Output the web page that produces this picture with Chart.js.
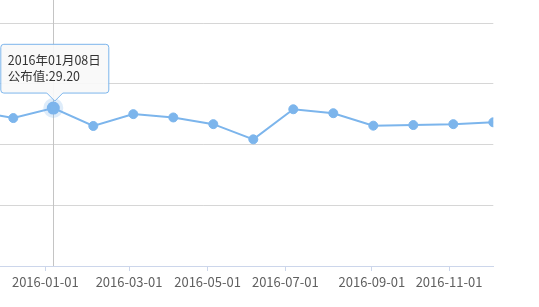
<!DOCTYPE html>
<html>
<head>
<meta charset="utf-8">
<script src="https://cdn.jsdelivr.net/npm/chart.js@4/dist/chart.umd.min.js"></script>
<style>
  html, body { margin: 0; padding: 0; width: 539px; height: 307px; overflow: hidden; background: #fff; }
  #wrap { position: absolute; left: -100px; top: 0; width: 639px; height: 307px; }
</style>
</head>
<body>
<div id="wrap"><canvas id="c"></canvas></div>
<script>
// Release dates (ordinal x-axis: one slot per release)
const releaseDates = ['2015-11-06','2015-12-04','2016-01-08','2016-02-05','2016-03-04','2016-04-01',
                      '2016-05-06','2016-06-03','2016-07-08','2016-08-05','2016-09-02','2016-10-07',
                      '2016-11-04','2016-12-02'];
// 公布值
const publishedValues = [29.10, 28.87, 29.20, 28.61, 29.00, 28.89, 28.67, 28.17, 29.16, 29.03, 28.62, 28.64, 28.67, 28.73];
// Date tick labels on the x axis
const xTickLabels = ['2015-11-01','2016-01-01','2016-03-01','2016-05-01','2016-07-01','2016-09-01','2016-11-01'];
// Y axis range
const yMin = 24, yMax = 32, yStep = 2;
const activeIndex = 2;

const FONT = "'Noto Sans CJK SC', 'Noto Sans', sans-serif";
const BLUE = '#7cb5ec';

function dayNum(s) { const p = s.split('-').map(Number); return Date.UTC(p[0], p[1]-1, p[2]) / 86400000; }
const relDays = releaseDates.map(dayNum);
// map a calendar date to an ordinal position (interpolated between releases)
function ordinalPos(s) {
  const d = dayNum(s);
  if (d < relDays[0]) return (d - relDays[0]) / (relDays[1] - relDays[0]);
  for (let i = 0; i < relDays.length - 1; i++) {
    if (d >= relDays[i] && d < relDays[i+1]) return i + (d - relDays[i]) / (relDays[i+1] - relDays[i]);
  }
  const n = relDays.length - 1;
  return n + (d - relDays[n]) / (relDays[n] - relDays[n-1]);
}
const tickPositions = xTickLabels.map(ordinalPos);
const points = publishedValues.map((v, i) => ({ x: i, y: v }));

function fmtCN(s) { const p = s.split('-'); return p[0] + '年' + p[1] + '月' + p[2] + '日'; }

// keep the tooltip box slightly inside the visible frame, like the original
Chart.Tooltip.positioners.nudged = function (items) {
  if (!items.length) return false;
  const p = items[0].element;
  return { x: p.x + 1.5, y: p.y };
};

const crosshair = {
  id: 'crosshair',
  beforeDatasetsDraw(chart) {
    const act = chart.getActiveElements();
    if (!act.length) return;
    const x = Math.round(act[0].element.x) + 0.5;
    const ctx = chart.ctx;
    ctx.save();
    ctx.strokeStyle = '#c4c4c4';
    ctx.lineWidth = 1;
    ctx.beginPath();
    ctx.moveTo(x, 0);
    ctx.lineTo(x, chart.chartArea.bottom);
    ctx.stroke();
    ctx.restore();
  }
};

const chart = new Chart(document.getElementById('c'), {
  type: 'line',
  data: {
    datasets: [{
      data: points,
      borderColor: BLUE,
      backgroundColor: BLUE,
      borderWidth: 2,
      pointRadius: 4.5,
      pointBorderWidth: 1,
      pointBorderColor: BLUE,
      pointBackgroundColor: BLUE,
      pointHoverRadius: 6.5,
      pointHoverBorderWidth: 7,
      pointHoverBorderColor: 'rgba(124,181,236,0.25)',
      pointHoverBackgroundColor: BLUE,
      tension: 0,
      fill: false
    }]
  },
  options: {
    responsive: true,
    maintainAspectRatio: false,
    animation: false,
    events: [],
    layout: { padding: { left: 13.3, right: 45.7, top: 23, bottom: 0 } },
    scales: {
      x: {
        type: 'linear',
        min: -1.5,
        max: releaseDates.length - 1,
        afterBuildTicks: (scale) => { scale.ticks = tickPositions.map(v => ({ value: v })); },
        afterFit: (scale) => { scale.height = 41; },
        grid: { drawOnChartArea: false, drawTicks: true, tickLength: 5, color: '#ccd6eb' },
        border: { display: true, color: '#ccd6eb', width: 1 },
        ticks: {
          autoSkip: false, maxRotation: 0, padding: 3,
          color: '#606060', font: { family: FONT, size: 13 },
          callback: (v, i) => xTickLabels[i]
        }
      },
      y: {
        min: yMin, max: yMax,
        afterFit: (scale) => { scale.width = 0; },
        ticks: { display: false, stepSize: yStep },
        grid: { color: '#d6d6d6', drawTicks: false, lineWidth: 1 },
        border: { display: false }
      }
    },
    plugins: {
      legend: { display: false },
      tooltip: {
        animation: false,
        position: 'nudged',
        xAlign: 'center', yAlign: 'bottom',
        backgroundColor: 'rgba(249,249,249,0.92)',
        borderColor: BLUE,
        borderWidth: 1,
        cornerRadius: 3,
        caretSize: 8,
        caretPadding: 7,
        displayColors: false,
        titleColor: '#333', bodyColor: '#333',
        titleFont: { family: FONT, size: 12.5, weight: 'normal', lineHeight: 1.15 },
        bodyFont: { family: FONT, size: 12.5, weight: 'normal', lineHeight: 1.15 },
        titleMarginBottom: 1,
        padding: { top: 9, bottom: 10, left: 7, right: 8 },
        callbacks: {
          title: (items) => fmtCN(releaseDates[items[0].dataIndex]),
          label: (item) => '公布值:' + publishedValues[item.dataIndex].toFixed(2)
        }
      }
    }
  },
  plugins: [crosshair]
});

const act = [{ datasetIndex: 0, index: activeIndex }];
chart.setActiveElements(act);
const el = chart.getDatasetMeta(0).data[activeIndex];
chart.tooltip.setActiveElements(act, { x: el.x, y: el.y });
chart.update();
</script>
</body>
</html>
